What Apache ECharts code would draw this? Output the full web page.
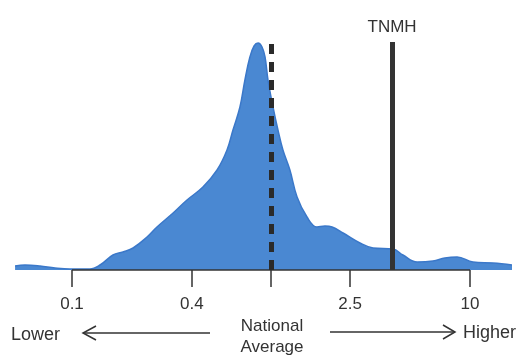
<!DOCTYPE html>
<html>
<head>
<meta charset="utf-8">
<script src="https://cdn.jsdelivr.net/npm/echarts@6/dist/echarts.min.js"></script>
<style>
  html, body {margin: 0; padding: 0; background: #fff;}
  #chart {width: 530px; height: 355px;}
</style>
</head>
<body>
<div id="chart"></div>
<script>
// x positions are log10(ratio to national average), y is relative density
const logRatio = [-1.286, -1.236, -1.161, -1.085, -1.010, -0.910, -0.859, -0.794, -0.744, -0.693,
  -0.623, -0.573, -0.492, -0.422, -0.342, -0.271, -0.221, -0.191, -0.156, -0.131,
  -0.106, -0.085, -0.065, -0.045, -0.030, -0.015, 0.010, 0.035, 0.060, 0.095,
  0.131, 0.181, 0.231, 0.271, 0.307, 0.362, 0.447, 0.513, 0.613, 0.663,
  0.734, 0.814, 0.874, 0.935, 1.015, 1.116, 1.211];
const density = [4, 5, 4, 2, 1, 1, 5, 15, 18, 22,
  33, 43, 57, 70, 83, 100, 120, 140, 163, 190,
  213, 224, 227, 223, 213, 190, 163, 140, 120, 100,
  73, 53, 43, 44, 43, 37, 27, 22, 21, 15,
  8, 9, 12, 13, 8, 7, 5];
const tickLabels = ['0.1', '0.4', '2.5', '10'];
const tickValues = [0.1, 0.4, 2.5, 10];
const nationalAverage = 1;
const tnmhValue = 4.06;
const lineTop = 228;

const font = 'Liberation Sans, Arial, sans-serif';
const ink = '#333333';
const lg = Math.log10;

const chart = echarts.init(document.getElementById('chart'));
chart.setOption({
  animation: false,
  grid: {left: 15, right: 18, top: 40, bottom: 85},
  xAxis: {
    type: 'value',
    min: -1.2864,
    max: 1.2111,
    axisLine: {show: false},
    splitLine: {show: false},
    axisTick: {
      show: true,
      customValues: [lg(0.1), lg(0.4), lg(nationalAverage), lg(2.5), lg(10)],
      length: 17,
      lineStyle: {color: ink, width: 1.5}
    },
    axisLabel: {
      customValues: tickValues.map(lg),
      formatter: v => tickLabels[tickValues.findIndex(t => Math.abs(lg(t) - v) < 1e-6)] || '',
      margin: 26,
      fontSize: 17,
      fontFamily: font,
      color: ink
    }
  },
  yAxis: {type: 'value', min: 0, max: 230, show: false},
  series: [{
    type: 'line',
    data: logRatio.map((x, i) => [x, density[i]]),
    smooth: 0.4,
    symbol: 'none',
    lineStyle: {color: '#3b78c9', width: 1.5},
    areaStyle: {color: '#4a88d2', opacity: 1},
    z: 2,
    markLine: {
      silent: true,
      symbol: 'none',
      data: [
        [{coord: [lg(tickValues[0]), 0], lineStyle: {color: ink, width: 1.5, type: 'solid'}},
         {coord: [lg(tickValues[3]), 0]}],
        [{coord: [lg(nationalAverage), 0], lineStyle: {color: '#2a2a2a', width: 5, type: [10, 8]}},
         {coord: [lg(nationalAverage), lineTop - 1]}],
        [{coord: [lg(tnmhValue), 0], lineStyle: {color: '#333333', width: 5, type: 'solid'},
          label: {show: true, position: 'end', formatter: 'TNMH', distance: 6,
            fontSize: 17, fontFamily: font, color: ink}},
         {coord: [lg(tnmhValue), lineTop]}]
      ],
      label: {show: false}
    }
  }],
  graphic: [
    {type: 'text', left: 11, top: 326, style: {text: 'Lower', fontSize: 18, fontFamily: font, fill: ink}},
    {type: 'text', left: 463, top: 324, style: {text: 'Higher', fontSize: 18, fontFamily: font, fill: ink}},
    {type: 'text', x: 272, y: 316, style: {text: 'National\nAverage', fontSize: 17, lineHeight: 21,
      fontFamily: font, fill: ink, align: 'center'}},
    {type: 'line', shape: {x1: 83, y1: 333, x2: 210, y2: 333}, style: {stroke: ink, lineWidth: 1.5}},
    {type: 'polyline', shape: {points: [[96, 326], [83, 333], [96, 340]]}, style: {stroke: ink, lineWidth: 1.5, fill: null}},
    {type: 'line', shape: {x1: 330, y1: 332, x2: 455, y2: 332}, style: {stroke: ink, lineWidth: 1.5}},
    {type: 'polyline', shape: {points: [[443, 325], [455, 332], [443, 339]]}, style: {stroke: ink, lineWidth: 1.5, fill: null}}
  ]
});
</script>
</body>
</html>
